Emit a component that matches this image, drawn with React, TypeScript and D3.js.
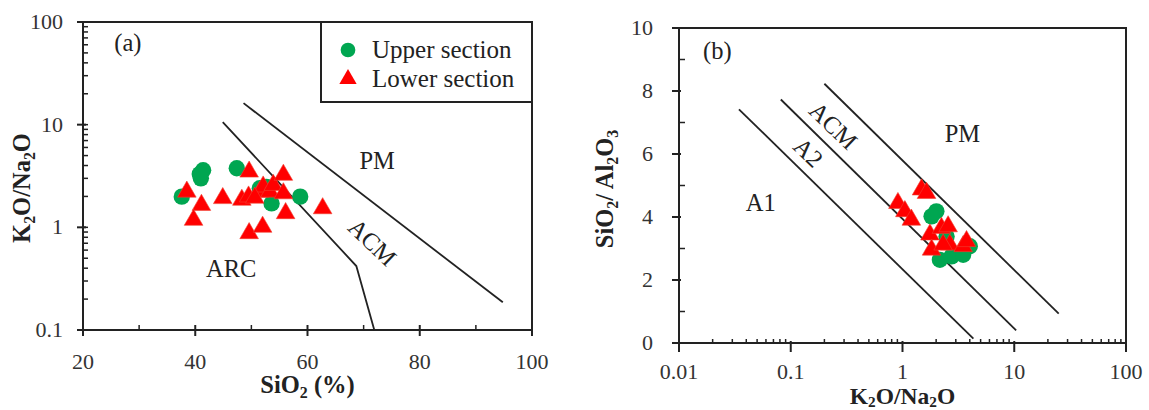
import React from 'react';
import * as d3 from 'd3';

// panel (a): SiO2 vs K2O/Na2O
const upperSiO2 = [37.6, 41.4, 41.0, 40.8, 47.4, 51.5, 52.7, 53.6, 58.7];
const upperRatioA = [1.99, 3.6, 3.0, 3.3, 3.76, 2.4, 2.47, 1.71, 1.99];
const lowerSiO2 = [38.5, 41.1, 39.7, 44.9, 49.6, 48.3, 49.5, 49.6, 52.0, 51.5, 52.1, 53.3, 53.9, 55.7, 55.7, 56.1, 62.7, 50.6];
const lowerRatioA = [2.22, 1.65, 1.18, 1.92, 3.48, 1.85, 1.99, 0.875, 1.01, 2.22, 2.49, 2.22, 2.58, 3.24, 2.14, 1.37, 1.53, 1.94];

// panel (b): K2O/Na2O vs SiO2/Al2O3
const upperRatioB = [2.01, 1.82, 2.16, 2.75, 4.0, 3.49, 2.48];
const upperSiAl = [4.18, 4.02, 2.64, 2.75, 3.07, 2.8, 3.38];
const lowerRatioB = [1.48, 1.64, 0.91, 1.05, 1.2, 1.76, 2.23, 2.56, 2.65, 3.49, 3.74, 1.82, 2.31];
const lowerSiAl = [4.87, 4.76, 4.44, 4.18, 3.91, 3.44, 3.65, 3.7, 3.12, 3.07, 3.23, 2.96, 3.12];

// field boundaries
const arcAcmSiO2 = [44.9, 68.7, 71.9];
const arcAcmRatio = [10.6, 0.42, 0.1];
const acmPmSiO2 = [48.6, 94.8];
const acmPmRatio = [16.2, 0.186];

const a1a2Ratio = [0.0344, 4.31];
const a1a2SiAl = [7.42, 0.137];
const a2AcmRatio = [0.0815, 10.4];
const a2AcmSiAl = [7.73, 0.4];
const acmPmRatioB = [0.2, 25];
const acmPmSiAl = [8.23, 0.93];

const xTicksA = [20, 40, 60, 80, 100];
const xMinorA = [30, 50, 70, 90];
const yTicksA = [0.1, 1, 10, 100];
const xTicksB = [0.01, 0.1, 1, 10, 100];
const yTicksB = [0, 2, 4, 6, 8, 10];
const yMinorB = [1, 3, 5, 7, 9];

const GREEN = '#00a651';
const RED = '#ff0000';
const INK = '#222';
const FONT = '"Liberation Serif", "Times New Roman", serif';
const TICK = 22;
const LABEL = 24.5;
const TITLE = 24.5;

const xA = d3.scaleLinear().domain([20, 100]).range([83, 532]);
const yA = d3.scaleLog().domain([0.1, 100]).range([330, 22]);
const xB = d3.scaleLog().domain([0.01, 100]).range([679, 1126]);
const yB = d3.scaleLinear().domain([0, 10]).range([343, 28]);

const circle = d3.symbol().type(d3.symbolCircle).size(210)();
const tri = d3.symbol().type(d3.symbolTriangle).size(150)();
const legCircle = d3.symbol().type(d3.symbolCircle).size(170)();
const legTri = d3.symbol().type(d3.symbolTriangle).size(130)();

const fmt = (v: number) => (v < 1 ? String(v) : d3.format('d')(v));

// chemical formula with subscripts, e.g. [["K","2"],["O/Na","2"],["O",""]]
function Formula({ parts, shift = 5 }: { parts: [string, string][]; shift?: number }) {
  return (
    <>
      {parts.map(([t, s], i) => {
        const prevSub = i > 0 && parts[i - 1][1] !== '';
        return (
          <React.Fragment key={i}>
            <tspan dy={prevSub ? -shift : 0}>{t}</tspan>
            {s ? <tspan dy={shift} fontSize="0.65em">{s}</tspan> : null}
          </React.Fragment>
        );
      })}
    </>
  );
}

export default function App() {
  const lineA = d3.line<[number, number]>().x((d) => xA(d[0])).y((d) => yA(d[1]));
  const lineB = d3.line<[number, number]>().x((d) => xB(d[0])).y((d) => yB(d[1]));
  const zip = (a: number[], b: number[]) => a.map((v, i) => [v, b[i]] as [number, number]);

  return (
    <svg width={1149} height={410} style={{ position: 'absolute', left: 0, top: 0, background: '#fff' }} fontFamily={FONT}>
      {/* ---------- panel (a) ---------- */}
      <g>
        <rect x={83} y={22} width={449} height={308} fill="none" stroke={INK} strokeWidth={2} />
        {yA.ticks().map((t, i) => (
          <line key={'yam' + i} x1={83} x2={88} y1={yA(t)} y2={yA(t)} stroke={INK} strokeWidth={1.5} />
        ))}
        {yTicksA.map((t) => (
          <g key={'ya' + t}>
            <line x1={77} x2={86} y1={yA(t)} y2={yA(t)} stroke={INK} strokeWidth={2} />
            <text x={63} y={yA(t) + 7} textAnchor="end" fontSize={TICK} fill="#333">{fmt(t)}</text>
          </g>
        ))}
        {xMinorA.map((t) => (
          <line key={'xam' + t} x1={xA(t)} x2={xA(t)} y1={330} y2={325} stroke={INK} strokeWidth={1.5} />
        ))}
        {xTicksA.map((t) => (
          <g key={'xa' + t}>
            <line x1={xA(t)} x2={xA(t)} y1={325} y2={336} stroke={INK} strokeWidth={2} />
            <text x={xA(t)} y={369} textAnchor="middle" fontSize={TICK} fill="#333">{t}</text>
          </g>
        ))}
        <path d={lineA(zip(arcAcmSiO2, arcAcmRatio)) || ''} fill="none" stroke={INK} strokeWidth={1.8} />
        <path d={lineA(zip(acmPmSiO2, acmPmRatio)) || ''} fill="none" stroke={INK} strokeWidth={1.8} />

        {upperSiO2.map((v, i) => (
          <path key={'ua' + i} d={circle} transform={`translate(${xA(v)},${yA(upperRatioA[i])})`} fill={GREEN} />
        ))}
        {lowerSiO2.map((v, i) => (
          <path key={'la' + i} d={tri} transform={`translate(${xA(v)},${yA(lowerRatioA[i])})`} fill={RED} stroke="#f04030" strokeWidth={0.6} />
        ))}

        <text x={xA(28)} y={yA(63) + 8} textAnchor="middle" fontSize={LABEL} fill={INK}>(a)</text>
        <text x={xA(72.4)} y={yA(4.4) + 8} textAnchor="middle" fontSize={LABEL} fill={INK}>PM</text>
        <text x={xA(46.4)} y={yA(0.39) + 8} textAnchor="middle" fontSize={LABEL} fill={INK}>ARC</text>
        <text transform={`translate(${xA(71.5)},${yA(0.71)}) rotate(44)`} y={8} textAnchor="middle" fontSize={LABEL} fill={INK}>ACM</text>

        {/* legend */}
        <rect x={321} y={22} width={211} height={80} fill="#fff" stroke={INK} strokeWidth={2} />
        <path d={legCircle} transform="translate(348,50)" fill={GREEN} />
        <path d={legTri} transform="translate(348,79)" fill={RED} />
        <text x={372} y={58} fontSize={25} fill={INK}>Upper section</text>
        <text x={372} y={87} fontSize={25} fill={INK}>Lower section</text>

        <text x={xA(60)} y={393} textAnchor="middle" fontSize={TITLE} fontWeight="bold" fill={INK}>
          <Formula parts={[['SiO', '2'], [' (%)', '']]} />
        </text>
        <text transform="translate(30,188) rotate(-90)" textAnchor="middle" fontSize={TITLE} fontWeight="bold" fill={INK}>
          <Formula parts={[['K', '2'], ['O/Na', '2'], ['O', '']]} />
        </text>
      </g>

      {/* ---------- panel (b) ---------- */}
      <g>
        <rect x={679} y={28} width={447} height={315} fill="none" stroke={INK} strokeWidth={2} />
        {yMinorB.map((t) => (
          <line key={'ybm' + t} x1={679} x2={685} y1={yB(t)} y2={yB(t)} stroke={INK} strokeWidth={1.5} />
        ))}
        {yTicksB.map((t) => (
          <g key={'yb' + t}>
            <line x1={672} x2={681} y1={yB(t)} y2={yB(t)} stroke={INK} strokeWidth={2} />
            <text x={653} y={yB(t) + 7} textAnchor="end" fontSize={TICK} fill="#333">{t}</text>
          </g>
        ))}
        {xB.ticks().filter((t) => !xTicksB.some((m) => Math.abs(m - t) < 1e-9)).map((t, i) => (
          <line key={'xbm' + i} x1={xB(t)} x2={xB(t)} y1={343} y2={339} stroke={INK} strokeWidth={1.5} />
        ))}
        {xTicksB.map((t) => (
          <g key={'xb' + t}>
            <line x1={xB(t)} x2={xB(t)} y1={341} y2={352} stroke={INK} strokeWidth={2} />
            <text x={xB(t)} y={379} textAnchor="middle" fontSize={TICK} fill="#333">{fmt(t)}</text>
          </g>
        ))}
        <path d={lineB(zip(a1a2Ratio, a1a2SiAl)) || ''} fill="none" stroke={INK} strokeWidth={1.8} />
        <path d={lineB(zip(a2AcmRatio, a2AcmSiAl)) || ''} fill="none" stroke={INK} strokeWidth={1.8} />
        <path d={lineB(zip(acmPmRatioB, acmPmSiAl)) || ''} fill="none" stroke={INK} strokeWidth={1.8} />

        {upperRatioB.map((v, i) => (
          <path key={'ub' + i} d={circle} transform={`translate(${xB(v)},${yB(upperSiAl[i])})`} fill={GREEN} />
        ))}
        {lowerRatioB.map((v, i) => (
          <path key={'lb' + i} d={tri} transform={`translate(${xB(v)},${yB(lowerSiAl[i])})`} fill={RED} stroke="#f04030" strokeWidth={0.6} />
        ))}

        <text x={xB(0.022)} y={yB(9.26) + 8} textAnchor="middle" fontSize={LABEL} fill={INK}>(b)</text>
        <text x={xB(3.44)} y={yB(6.62) + 8} textAnchor="middle" fontSize={LABEL} fill={INK}>PM</text>
        <text x={xB(0.054)} y={yB(4.46) + 8} textAnchor="middle" fontSize={LABEL} fill={INK}>A1</text>
        <text transform={`translate(${xB(0.24)},${yB(6.89)}) rotate(44)`} y={8} textAnchor="middle" fontSize={LABEL} fill={INK}>ACM</text>
        <text transform={`translate(${xB(0.143)},${yB(6.04)}) rotate(44)`} y={8} textAnchor="middle" fontSize={LABEL} fill={INK}>A2</text>

        <text x={xB(1)} y={404} textAnchor="middle" fontSize={23.5} fontWeight="bold" fill={INK}>
          <Formula parts={[['K', '2'], ['O/Na', '2'], ['O', '']]} shift={3} />
        </text>
        <text transform="translate(613,189) rotate(-90)" textAnchor="middle" fontSize={TITLE} fontWeight="bold" fill={INK}>
          <Formula parts={[['SiO', '2'], ['/ Al', '2'], ['O', '3']]} />
        </text>
      </g>
    </svg>
  );
}
